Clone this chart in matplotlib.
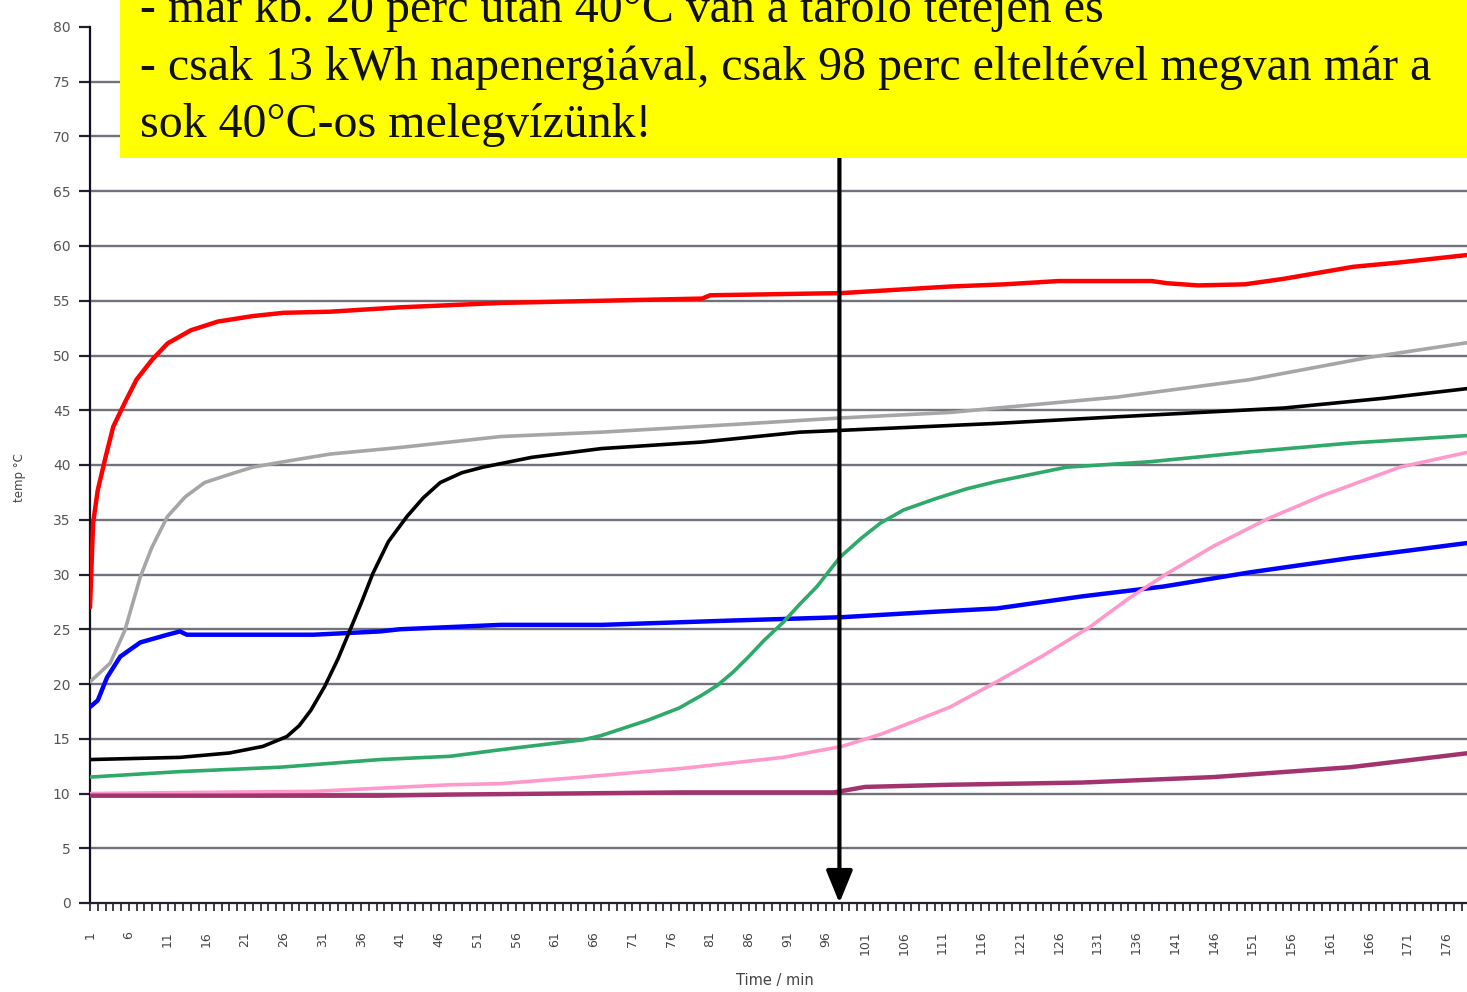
import matplotlib
matplotlib.use("Agg")
import matplotlib.pyplot as plt
from matplotlib.patches import Rectangle, FancyArrowPatch

# ---- data (minute, temperature °C) ----
red_x = [1, 1.4, 2, 3, 4, 5.5, 7, 9, 11, 14, 17.5, 22, 26, 32, 41, 54, 67, 80, 81, 98, 105, 112, 119, 126, 138, 140, 144, 150, 155, 164, 170, 179]
red_y = [27.0, 34.7, 37.7, 40.7, 43.5, 45.7, 47.8, 49.6, 51.1, 52.3, 53.1, 53.6, 53.9, 54.0, 54.4, 54.8, 55.0, 55.2, 55.5, 55.7, 56.0, 56.3, 56.5, 56.8, 56.8, 56.6, 56.4, 56.5, 57.0, 58.1, 58.5, 59.2]

gray_x = [1, 3.6, 5.5, 7.5, 9, 11, 13.3, 15.8, 19.7, 22, 26, 32, 41, 54, 67, 84, 98, 112, 118, 133.5, 150.7, 165.8, 179]
gray_y = [20.2, 21.9, 24.9, 29.8, 32.5, 35.3, 37.1, 38.4, 39.3, 39.8, 40.3, 41.0, 41.6, 42.6, 43.0, 43.7, 44.3, 44.8, 45.2, 46.2, 47.8, 49.8, 51.2]

black_x = [1, 12.6, 19, 23.3, 26.4, 28, 29.5, 31.3, 33, 34.3, 36, 37.5, 39.5, 41.9, 44, 46.2, 49, 51.7, 58, 67, 80, 92.6, 105.5, 118, 133.5, 155, 168, 179]
black_y = [13.1, 13.3, 13.7, 14.3, 15.2, 16.2, 17.6, 19.8, 22.3, 24.5, 27.4, 30.1, 33.0, 35.3, 37.0, 38.4, 39.3, 39.8, 40.7, 41.5, 42.1, 43.0, 43.4, 43.8, 44.4, 45.2, 46.1, 47.0]

blue_x = [1, 2, 3.2, 4.9, 7.5, 11, 12.6, 13.5, 29.8, 38.4, 41, 54, 67, 84, 98, 110, 118, 129, 139.5, 150.7, 163.6, 179]
blue_y = [17.9, 18.5, 20.6, 22.5, 23.8, 24.5, 24.8, 24.5, 24.5, 24.8, 25.0, 25.4, 25.4, 25.8, 26.1, 26.6, 26.9, 28.0, 28.9, 30.2, 31.5, 32.9]

green_x = [1, 12.6, 25.5, 38.4, 47.5, 54, 64.6, 67, 73, 77, 80, 82, 84, 86, 88, 90.4, 92.6, 94.8, 97.8, 100.5, 103, 106, 110, 114, 118, 127, 137.8, 150.7, 163.6, 179]
green_y = [11.5, 12.0, 12.4, 13.1, 13.4, 14.0, 14.9, 15.3, 16.7, 17.8, 19.0, 19.9, 21.1, 22.5, 24.0, 25.6, 27.3, 28.9, 31.6, 33.3, 34.7, 35.9, 36.9, 37.8, 38.5, 39.8, 40.3, 41.2, 42.0, 42.7]

pink_x = [1, 30, 47.5, 54, 64.6, 77.5, 84, 90.4, 98, 103, 107, 112, 118, 124, 130, 135, 140, 146, 153, 160, 170, 179]
pink_y = [10.0, 10.2, 10.8, 10.9, 11.5, 12.3, 12.8, 13.3, 14.3, 15.4, 16.5, 17.9, 20.2, 22.6, 25.2, 27.8, 30.1, 32.6, 35.1, 37.2, 39.8, 41.2]

purple_x = [1, 38, 47.5, 77.5, 97, 101, 112, 129, 146, 163.6, 179]
purple_y = [9.8, 9.8, 9.9, 10.1, 10.1, 10.6, 10.8, 11.0, 11.5, 12.4, 13.7]

x_tick_values = list(range(1, 180, 5))
x_tick_labels = [str(v) for v in x_tick_values]
y_tick_values = list(range(0, 81, 5))

marker_minute = 98
text_lines = [
    "- már kb. 20 perc után 40°C van a tároló tetején és",
    "- csak 13 kWh napenergiával, csak 98 perc elteltével megvan már a",
    "sok 40°C-os melegvízünk!",
]

# ---- figure ----
W, H = 1467, 992
fig = plt.figure(figsize=(W / 100, H / 100), dpi=100)
fig.patch.set_facecolor("white")

def fx(px):
    return px / W

def fy(py):
    return 1 - py / H

ax = fig.add_axes([fx(90), fy(903), fx(1467) - fx(90), fy(27) - fy(903)])
ax.set_xlim(1, 1 + (1467 - 90) / 7.75)
ax.set_ylim(0, 80)

# gridlines
for v in y_tick_values[1:-1]:
    ax.axhline(v, color="#72727a", lw=1.7, zorder=1)

series = [
    (gray_x, gray_y, "#a6a6a6", 2.6),
    (red_x, red_y, "#ff0000", 3.2),
    (blue_x, blue_y, "#0000ff", 3.2),
    (black_x, black_y, "#000000", 2.6),
    (green_x, green_y, "#2ea96a", 2.6),
    (pink_x, pink_y, "#ff99cc", 2.6),
    (purple_x, purple_y, "#a3336e", 3.2),
]
for xs, ys, c, lw in series:
    ax.plot(xs, ys, color=c, lw=lw, zorder=3, solid_joinstyle="round", solid_capstyle="round")

# axes styling
for s in ["top", "right"]:
    ax.spines[s].set_visible(False)
ax.spines["left"].set_color("#101020")
ax.spines["left"].set_linewidth(1.6)
ax.spines["bottom"].set_color("#202030")
ax.spines["bottom"].set_linewidth(1.6)
ax.set_yticks(y_tick_values)
ax.set_yticklabels([str(v) for v in y_tick_values])
ax.tick_params(axis="y", direction="out", length=8, width=1.6, color="#202030",
               labelsize=10, labelcolor="#555555", pad=6)
ax.set_xticks(x_tick_values)
ax.set_xticklabels(x_tick_labels, rotation=90, va="top", ha="center")
ax.set_xticks(list(range(1, 179)), minor=True)
ax.tick_params(axis="x", which="both", direction="out", length=6, width=1.2, color="#202030",
               labelsize=9, labelcolor="#444444", pad=14)
ax.set_facecolor("none")

fig.text(fx(775), fy(980), "Time / min", ha="center", va="center", fontsize=10.5,
         color="#444444", family="DejaVu Sans")
fig.text(fx(20), fy(478), "temp °C", ha="center", va="center", rotation=90, fontsize=8.5,
         color="#444444")

# yellow box
fig.patches.append(Rectangle((fx(120), fy(158)), 1 - fx(120), 1 - fy(158) + 0.01,
                             transform=fig.transFigure, facecolor="#ffff00",
                             edgecolor="none", zorder=5))
baselines = [22, 80, 137]
for line, bl in zip(text_lines, baselines):
    fig.text(fx(140), fy(bl), line, ha="left", va="baseline", fontsize=34.5,
             family="Liberation Serif", color="#111111", zorder=6)

# arrow
arrow_x = marker_minute - 0.3
arr = FancyArrowPatch((arrow_x, (903 - 158) / 10.95), (arrow_x, 0),
                      arrowstyle="-|>,head_width=0.45,head_length=1.1",
                      mutation_scale=18, color="black", lw=3, zorder=7,
                      shrinkA=0, shrinkB=0, clip_on=False)
ax.add_patch(arr)

fig.savefig("out.png", dpi=100)
